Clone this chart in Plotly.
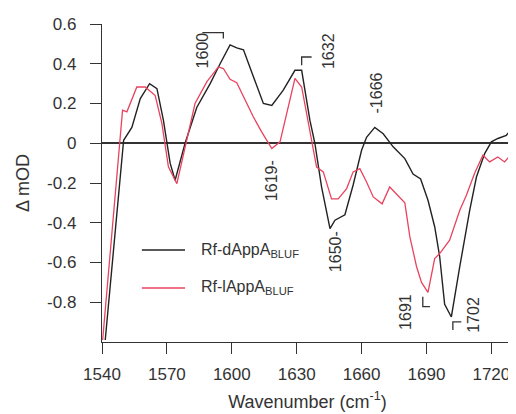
import plotly.graph_objects as go

# ---- data ----
d_x = [1541.5, 1550, 1553.8, 1557.7, 1562, 1565.4, 1568.4, 1571.5, 1573.8, 1578.4,
       1583.8, 1590, 1594.6, 1599.2, 1602.3, 1605.4, 1610, 1614.6, 1618.5, 1623.8,
       1629.2, 1632.3, 1636.1, 1638.4, 1641.5, 1645.4, 1647.7, 1652.3, 1656.1, 1660,
       1662.3, 1666.1, 1670, 1674.6, 1680, 1683.8, 1687.3, 1690.7, 1693.8, 1696.1,
       1698.4, 1701.5, 1705.4, 1710, 1713.1, 1716.9, 1720, 1723, 1726.9, 1730]
d_y = [-0.99, 0.015, 0.08, 0.225, 0.30, 0.275, 0.115, -0.10, -0.186, 0.0,
       0.18, 0.30, 0.40, 0.495, 0.48, 0.47, 0.335, 0.20, 0.19, 0.267,
       0.367, 0.367, 0.116, 0.0, -0.22, -0.43, -0.387, -0.36, -0.21, -0.035,
       0.03, 0.08, 0.048, -0.018, -0.077, -0.155, -0.18, -0.287, -0.42, -0.57,
       -0.81, -0.874, -0.62, -0.337, -0.17, -0.052, 0.007, 0.024, 0.04, 0.08]

l_x = [1540.3, 1548.5, 1549.5, 1551.5, 1556.1, 1560, 1564.6, 1567.7, 1570.7, 1574.6,
       1578.4, 1583, 1588.5, 1593.8, 1596.1, 1599.2, 1602.3, 1606.1, 1610, 1613.8,
       1618.5, 1622.3, 1625.4, 1629.2, 1632.3, 1636.1, 1639.2, 1642.3, 1646.1, 1649.2,
       1653.1, 1656.1, 1659.2, 1662.3, 1665.4, 1669.5, 1673, 1680, 1682.3, 1685.4,
       1687.7, 1690.7, 1693.8, 1696.1, 1700.7, 1705.4, 1708.5, 1712.3, 1716.1, 1719.2,
       1723, 1726.1, 1730]
l_y = [-0.99, 0.02, 0.166, 0.158, 0.283, 0.283, 0.24, 0.099, -0.119, -0.203,
       -0.018, 0.2, 0.31, 0.384, 0.376, 0.322, 0.305, 0.216, 0.132, 0.057,
       -0.027, 0.007, 0.149, 0.326, 0.283, 0.05, -0.12, -0.144, -0.28, -0.28,
       -0.228, -0.144, -0.128, -0.195, -0.27, -0.305, -0.22, -0.30, -0.47, -0.62,
       -0.70, -0.75, -0.58, -0.555, -0.488, -0.337, -0.26, -0.15, -0.06, -0.094,
       -0.069, -0.094, -0.044]

series_names = ["Rf-dAppA<sub>BLUF</sub>", "Rf-lAppA<sub>BLUF</sub>"]
series_colors = ["#222222", "#e8435e"]

x_ticks = [1540, 1570, 1600, 1630, 1660, 1690, 1720]
y_ticks = [0.6, 0.4, 0.2, 0, -0.2, -0.4, -0.6, -0.8]
y_tick_text = ["0.6", "0.4", "0.2", "0", "-0.2", "-0.4", "-0.6", "-0.8"]

# peak labels (rotated text), in data coordinates
peak_text = ["1600", "1632", "-1666", "1619-", "1650-", "1691", "1702"]
peak_x = [1586.3, 1644.4, 1667.0, 1618.1, 1647.7, 1680.5, 1711.8]
peak_y = [0.468, 0.463, 0.254, -0.186, -0.543, -0.849, -0.865]

# bracket markers (polyline points in data coordinates)
brackets = [
    ([1586.4, 1596.1, 1596.1], [0.557, 0.557, 0.527]),
    ([1636.9, 1632.3, 1632.3], [0.434, 0.434, 0.392]),
    ([1688.3, 1688.3, 1691.6], [-0.772, -0.822, -0.822]),
    ([1706.1, 1702.2, 1702.2], [-0.899, -0.899, -0.94]),
]

FONT = "Arial, 'Liberation Sans', sans-serif"
TXT = "#333333"

fig = go.Figure()
fig.add_trace(go.Scatter(x=d_x, y=d_y, mode="lines", name=series_names[0],
                         line=dict(color=series_colors[0], width=1.4), showlegend=False))
fig.add_trace(go.Scatter(x=l_x, y=l_y, mode="lines", name=series_names[1],
                         line=dict(color=series_colors[1], width=1.3), showlegend=False))

for bx, by in brackets:
    path = "M " + " L ".join(f"{a},{b}" for a, b in zip(bx, by))
    fig.add_shape(type="path", path=path, xref="x", yref="y",
                  line=dict(color="#333333", width=1.3))

for t, px, py in zip(peak_text, peak_x, peak_y):
    fig.add_annotation(x=px, y=py, xref="x", yref="y", text=t, textangle=-90,
                       showarrow=False, xanchor="center", yanchor="middle",
                       font=dict(family=FONT, size=16, color=TXT))

# manual legend
leg_y = [0.289, 0.170]
for name, col, ly in zip(series_names, series_colors, leg_y):
    fig.add_shape(type="line", xref="paper", yref="paper", x0=0.097, x1=0.202,
                  y0=ly, y1=ly, line=dict(color=col, width=1.5))
    fig.add_annotation(x=0.236, y=ly, xref="paper", yref="paper", text=name,
                       showarrow=False, xanchor="left", yanchor="middle",
                       font=dict(family=FONT, size=16, color=TXT))

# page body has an 8px margin; figure is sized/offset to compensate
fig.update_layout(
    width=508, height=406,
    margin=dict(l=94, r=3, t=16, b=72),
    paper_bgcolor="white", plot_bgcolor="white",
    font=dict(family=FONT, size=16, color=TXT),
    showlegend=False,
)
fig.update_xaxes(range=[1540, 1730], tickvals=x_ticks, ticks="outside", ticklen=11,
                 tickwidth=1.3, tickcolor="#333", showline=True, linecolor="#333",
                 linewidth=1.4, showgrid=False, zeroline=False,
                 tickfont=dict(size=17), ticklabelstandoff=5,
                 title=dict(text="Wavenumber (cm<sup>-1</sup>)", font=dict(size=18),
                            standoff=12))
fig.update_yaxes(range=[-1.0, 0.6], tickvals=y_ticks, ticktext=y_tick_text,
                 ticks="outside", ticklen=11, tickwidth=1.3, tickcolor="#333",
                 showline=True, linecolor="#333", linewidth=1.4, showgrid=False,
                 zeroline=True, zerolinecolor="#333", zerolinewidth=1.5,
                 tickfont=dict(size=17), ticklabelstandoff=10,
                 title=dict(text="Δ mOD", font=dict(size=18), standoff=12))

fig.write_html("out.html")
